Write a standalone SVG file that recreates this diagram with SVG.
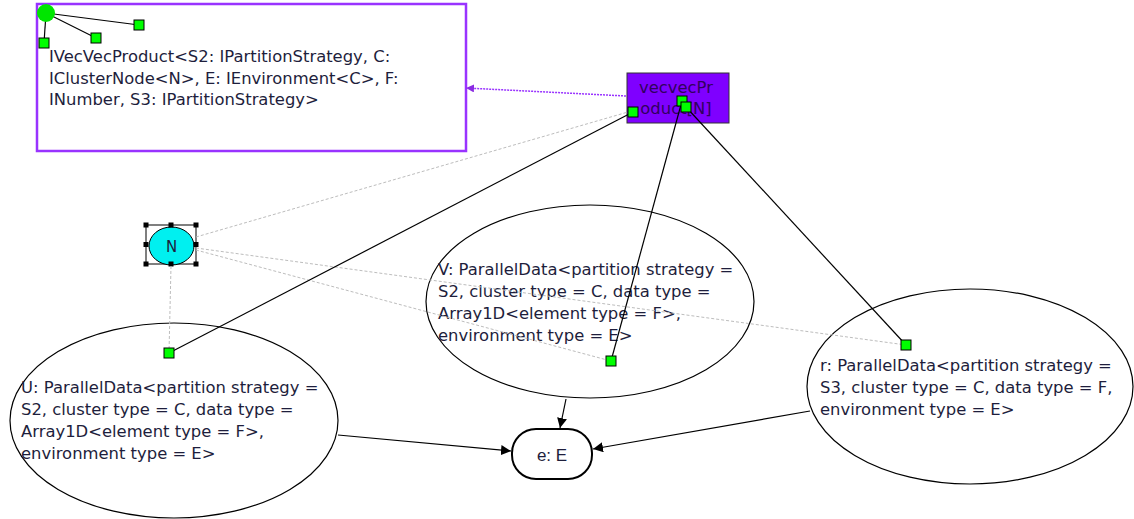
<svg xmlns="http://www.w3.org/2000/svg" width="1134" height="519" viewBox="0 0 1134 519">
<style>
.t{font-family:"DejaVu Sans",sans-serif;font-size:16.4px;fill:#1e1e3c}
.ell{fill:#fff;stroke:#000;stroke-width:1.2}
.sq{fill:#00ff00;stroke:#000;stroke-width:1}
.blk{stroke:#000;stroke-width:1.2;fill:none}
.gry{stroke:#bdbdbd;stroke-width:1;stroke-dasharray:3 2;fill:none}
.h{fill:#000}
</style>
<defs>
<marker id="ah" viewBox="0 0 10 10" refX="10" refY="5" markerWidth="10" markerHeight="10" markerUnits="userSpaceOnUse" orient="auto">
<path d="M0,0 L10,5 L0,10 z" fill="#000"/>
</marker>
<marker id="ap" viewBox="0 0 10 10" refX="10" refY="5" markerWidth="8" markerHeight="8" markerUnits="userSpaceOnUse" orient="auto">
<path d="M0,0 L10,5 L0,10 z" fill="#8a2be2"/>
</marker>
</defs>
<rect width="1134" height="519" fill="#fff"/>

<g id="iface">
<rect x="37" y="4" width="429" height="147" fill="#fff" stroke="#9933ff" stroke-width="2.5"/>
<text class="t" x="49" y="62">IVecVecProduct&lt;S2: IPartitionStrategy, C:</text>
<text class="t" x="49" y="83.5">IClusterNode&lt;N&gt;, E: IEnvironment&lt;C&gt;, F:</text>
<text class="t" x="49" y="105">INumber, S3: IPartitionStrategy&gt;</text>
<g stroke="#000" stroke-width="1.2">
<line x1="46" y1="13" x2="139" y2="25"/>
<line x1="46" y1="13" x2="96" y2="38"/>
<line x1="46" y1="13" x2="44" y2="43"/>
</g>
<circle cx="46" cy="13" r="9" fill="#00e600"/>
<rect class="sq" x="134" y="20" width="10" height="10"/>
<rect class="sq" x="91" y="33" width="10" height="10"/>
<rect class="sq" x="39" y="38" width="10" height="10"/>
</g>

<g id="U">
<ellipse class="ell" cx="174" cy="420.5" rx="164" ry="97.5"/>
<text class="t" x="21" y="393">U: ParallelData&lt;partition strategy =</text>
<text class="t" x="21" y="415">S2, cluster type = C, data type =</text>
<text class="t" x="21" y="437">Array1D&lt;element type = F&gt;,</text>
<text class="t" x="21" y="459">environment type = E&gt;</text>
</g>

<g id="V">
<ellipse class="ell" cx="590" cy="301.5" rx="164" ry="96.5"/>
<text class="t" x="438" y="275">V: ParallelData&lt;partition strategy =</text>
<text class="t" x="438" y="297">S2, cluster type = C, data type =</text>
<text class="t" x="438" y="319">Array1D&lt;element type = F&gt;,</text>
<text class="t" x="438" y="341">environment type = E&gt;</text>
</g>

<g id="r">
<ellipse class="ell" cx="970" cy="386.5" rx="163" ry="97.5"/>
<text class="t" x="820" y="371">r: ParallelData&lt;partition strategy =</text>
<text class="t" x="820" y="393">S3, cluster type = C, data type = F,</text>
<text class="t" x="820" y="415">environment type = E&gt;</text>
</g>

<g id="e">
<rect x="512" y="429" width="80" height="50" rx="24" ry="24" fill="#fff" stroke="#000" stroke-width="2"/>
<text x="552" y="461" text-anchor="middle" font-family="Liberation Sans, Arial, sans-serif" font-size="17" fill="#1e1e3c">e: E</text>
</g>

<g id="N">
<rect x="146" y="225" width="50" height="39" fill="none" stroke="#000" stroke-width="1"/>
<ellipse cx="171.5" cy="246" rx="22.5" ry="19" fill="#00f0f0" stroke="#000" stroke-width="1"/>
<text x="171.5" y="251.5" text-anchor="middle" font-family="DejaVu Sans, sans-serif" font-size="15" fill="#1e1e3c">N</text>
<rect class="h" x="143.5" y="222.5" width="5" height="5"/>
<rect class="h" x="168.5" y="222.5" width="5" height="5"/>
<rect class="h" x="193.5" y="222.5" width="5" height="5"/>
<rect class="h" x="143.5" y="242" width="5" height="5"/>
<rect class="h" x="193.5" y="242" width="5" height="5"/>
<rect class="h" x="143.5" y="261.5" width="5" height="5"/>
<rect class="h" x="168.5" y="261.5" width="5" height="5"/>
<rect class="h" x="193.5" y="261.5" width="5" height="5"/>
</g>

<g id="vecvec">
<rect x="627" y="73" width="102" height="50" fill="#7f00ff" stroke="#333" stroke-width="1"/>
<text class="t" x="676" y="93" text-anchor="middle" style="fill:#32005e">vecvecPr</text>
<text class="t" x="676" y="114" text-anchor="middle" style="fill:#32005e">oduct[N]</text>
</g>

<g id="connectors">
<line class="gry" x1="196" y1="237" x2="628" y2="112"/>
<line class="gry" x1="196" y1="250" x2="611" y2="361"/>
<line class="gry" x1="196" y1="248" x2="906" y2="345"/>
<line class="gry" x1="171" y1="266" x2="169" y2="353"/>
<line class="blk" x1="633" y1="112" x2="169" y2="353"/>
<line class="blk" x1="682" y1="101" x2="611" y2="361"/>
<line class="blk" x1="686" y1="107" x2="906" y2="345"/>
<line x1="626" y1="96" x2="466" y2="88" stroke="#9933ff" stroke-width="1.5" stroke-dasharray="2 1" marker-end="url(#ap)"/>
<line class="blk" x1="338" y1="435" x2="511" y2="451" marker-end="url(#ah)"/>
<line class="blk" x1="566" y1="399" x2="560" y2="428" marker-end="url(#ah)"/>
<line class="blk" x1="810" y1="411" x2="593" y2="449" marker-end="url(#ah)"/>
<rect class="sq" x="628" y="107" width="10" height="10"/>
<rect class="sq" x="677" y="96" width="10" height="10"/>
<rect class="sq" x="681" y="102" width="10" height="10"/>
<rect class="sq" x="164" y="348" width="10" height="10"/>
<rect class="sq" x="606" y="356" width="10" height="10"/>
<rect class="sq" x="901" y="340" width="10" height="10"/>
</g>
</svg>
